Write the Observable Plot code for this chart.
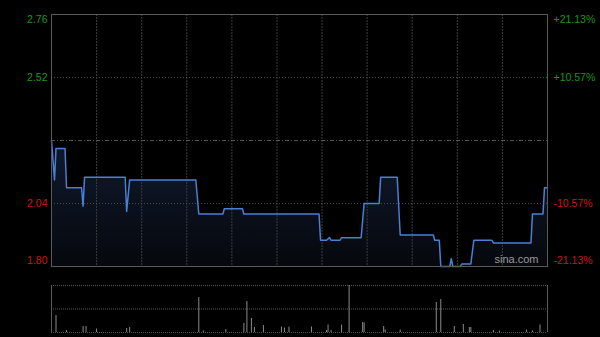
<!DOCTYPE html>
<html><head><meta charset="utf-8">
<script src="https://cdn.jsdelivr.net/npm/d3@7"></script>
<script src="https://cdn.jsdelivr.net/npm/@observablehq/plot@0.6"></script>
<style>
html,body{margin:0;padding:0;background:#000;}
#chart svg{display:block}
</style></head><body><div id="chart"></div>
<script>
// Intraday price vertices (minute of session, price)
const minutes = [0,2,3,9,10,20,21,22,49,50,52,96,98,114,115,127,128,178,179,183,185,186,192,193,206,208,218,219,230,232,254,255,258,259,265,266,267,272,273,279,281,293,294,319,320,327,328,330];
const prices = [2.28,2.13,2.25,2.25,2.10,2.10,2.03,2.14,2.14,2.01,2.13,2.13,2.00,2.00,2.02,2.02,2.00,2.00,1.90,1.90,1.91,1.90,1.90,1.91,1.91,2.04,2.04,2.14,2.14,1.92,1.92,1.90,1.90,1.80,1.80,1.83,1.80,1.80,1.81,1.81,1.90,1.90,1.89,1.89,2.00,2.00,2.10,2.10];
// Volume bars
const volMinutes = [3,10,21,23,30,50,52,98,101,116,128,130,133,135,141,153,155,158,173,183,184,186,193,198,207,208,221,222,232,256,259,268,274,278,279,294,298,316,320,325];
const volumes = [170,20,60,60,35,40,50,350,15,30,90,310,140,50,70,55,45,55,55,20,75,20,75,470,100,95,60,25,25,300,330,60,80,50,50,20,15,25,15,75];
// Axes
const prevClose = 2.28;
const priceTicks = [2.76, 2.52, 2.04, 1.80];
const priceLabels = ["2.76", "2.52", "2.04", "1.80"];
const pctLabels = ["+21.13%", "+10.57%", "-10.57%", "-21.13%"];
const timeTicks = [30,60,90,120,150,180,210,240,270,300];
const sessionMinutes = 330;
const volMax = 470;

const priceData = minutes.map((m, i) => ({m, p: prices[i]}));
const volData = volMinutes.map((m, i) => ({m, v: volumes[i]}));
const tickData = priceTicks.map((p, i) => ({i, p, label: priceLabels[i], pct: pctLabels[i], up: p > prevClose}));
const yMin = d3.min(priceTicks), yMax = d3.max(priceTicks);

const font = "'Liberation Sans', Arial, sans-serif";
const green = "#1a961a", red = "#d01414";
const labelDy = i => i === 0 ? 5 : (i === tickData.length - 1 ? -6 : 0);

function labelMarks() {
  const out = [];
  for (const t of tickData) {
    out.push(Plot.text([t], {y: "p", text: "label", frameAnchor: "left", textAnchor: "end", dx: -4, dy: labelDy(t.i),
      fill: t.up ? green : red, fontSize: 10.5}));
    out.push(Plot.text([t], {y: "p", text: "pct", frameAnchor: "right", textAnchor: "start", dx: 6, dy: labelDy(t.i),
      fill: t.up ? green : red, fontSize: 10.5}));
  }
  return out;
}

const defs = () => {
  const d = d3.create("svg:defs");
  const g = d.append("linearGradient").attr("id", "areaGrad").attr("x1", 0).attr("y1", 0).attr("x2", 0).attr("y2", 1);
  g.append("stop").attr("offset", "0%").attr("stop-color", "#101a2e");
  g.append("stop").attr("offset", "100%").attr("stop-color", "#06080d");
  return d.node();
};

const main = Plot.plot({
  width: 600, height: 280,
  marginLeft: 51, marginRight: 53, marginTop: 14, marginBottom: 14,
  style: {background: "#000", fontFamily: font},
  x: {domain: [0, sessionMinutes], axis: null},
  y: {domain: [yMin, yMax], axis: null},
  marks: [
    defs,
    Plot.areaY(priceData, {x: "m", y1: () => yMin, y2: "p", fill: "url(#areaGrad)"}),
    Plot.ruleX(timeTicks, {stroke: "#3c3c3c", strokeDasharray: "2,1"}),
    Plot.ruleY(priceTicks.filter(p => p !== yMin && p !== yMax), {stroke: "#4a4a4a", strokeDasharray: "1,2"}),
    Plot.ruleY([prevClose], {stroke: "#555", strokeDasharray: "4,2,1,2"}),
    Plot.line(priceData, {x: "m", y: "p", stroke: "#4a7fd4", strokeWidth: 1.5}),
    Plot.frame({stroke: "#5a5a5a"}),
    Plot.text(["sina.com"], {frameAnchor: "bottom-right", textAnchor: "end", dx: -9, dy: -4, fill: "#9a9a9a", fontSize: 11}),
    ...labelMarks()
  ]
});

const vol = Plot.plot({
  width: 600, height: 57,
  marginLeft: 51, marginRight: 53, marginTop: 5, marginBottom: 5,
  style: {background: "#000", fontFamily: font},
  x: {domain: [0, sessionMinutes], axis: null},
  y: {domain: [0, volMax], axis: null},
  marks: [
    Plot.ruleY([0, volMax / 2, volMax], {stroke: "#555", strokeDasharray: "1,1"}),
    Plot.ruleX([0, sessionMinutes], {stroke: "#5a5a5a"}),
    Plot.ruleX(volData, {x: "m", y1: 0, y2: "v", stroke: "#8a8a8a", strokeWidth: 1})
  ]
});

document.getElementById("chart").append(main, vol);
</script></body></html>
